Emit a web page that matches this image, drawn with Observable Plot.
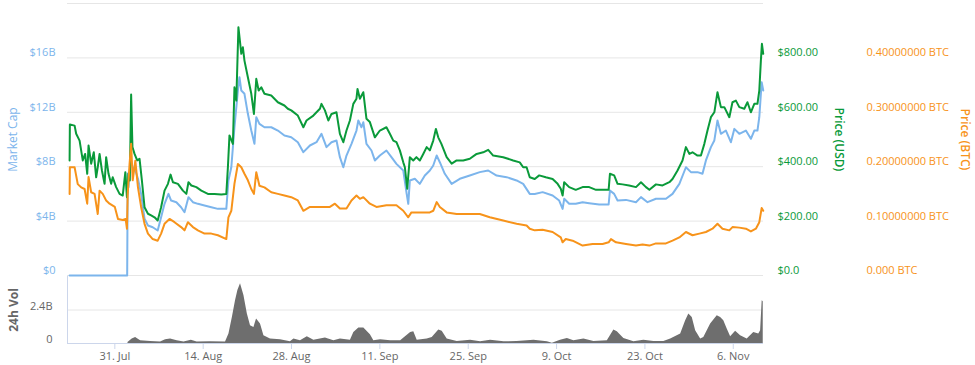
<!DOCTYPE html>
<html><head><meta charset="utf-8">
<script src="https://cdn.jsdelivr.net/npm/d3@7"></script>
<script src="https://cdn.jsdelivr.net/npm/@observablehq/plot@0.6"></script>
<style>
html,body{margin:0;padding:0;background:#fff;overflow:hidden}
#chart{position:relative;width:975px;height:365px}
#chart svg{position:absolute;left:0;top:0}
</style></head><body><div id="chart"></div>
<script>
// ---- data ----
const marketCapB = [["07-23 20",0],["08-01 23",0],["08-02 01",7.5],["08-02 04",6.49],["08-02 12",8.46],["08-02 20",7.96],["08-03 06",7.72],["08-03 16",7.11],["08-04 04",6.0],["08-04 17",4.17],["08-05 06",3.68],["08-06 00",3.55],["08-06 19",3.31],["08-07 08",4.29],["08-07 21",5.27],["08-08 12",6.0],["08-08 22",5.51],["08-09 18",5.39],["08-10 12",5.02],["08-11 01",4.65],["08-11 16",5.76],["08-12 09",5.39],["08-13 04",5.27],["08-14 05",5.15],["08-15 07",5.02],["08-16 08",4.9],["08-17 16",4.9],["08-18 00",6.99],["08-18 11",7.96],["08-18 23",10.9],["08-19 12",13.6],["08-19 18",14.58],["08-20 01",13.6],["08-20 13",13.36],["08-21 02",11.89],["08-21 15",10.66],["08-22 03",9.68],["08-22 10",11.64],["08-22 22",11.15],["08-23 17",10.9],["08-24 19",10.9],["08-25 20",10.66],["08-26 21",10.29],["08-27 23",10.17],["08-29 00",9.8],["08-29 21",9.07],["08-30 22",9.56],["08-31 23",9.8],["09-01 18",10.42],["09-02 13",9.44],["09-03 08",9.8],["09-04 03",9.93],["09-04 16",8.7],["09-05 05",7.96],["09-05 17",8.82],["09-06 12",9.68],["09-07 07",10.66],["09-07 14",11.4],["09-08 02",10.9],["09-08 09",11.27],["09-08 21",9.68],["09-09 16",9.19],["09-10 05",8.46],["09-11 00",8.82],["09-12 01",9.19],["09-12 20",8.7],["09-13 15",8.21],["09-14 17",7.72],["09-15 06",6.0],["09-15 12",5.27],["09-15 18",6.99],["09-16 13",7.11],["09-17 08",6.74],["09-18 03",7.35],["09-18 22",7.72],["09-19 11",8.09],["09-20 00",8.82],["09-20 12",8.33],["09-21 07",7.48],["09-22 09",6.74],["09-23 16",7.11],["09-25 06",7.35],["09-26 20",7.6],["09-28 04",7.72],["09-29 12",7.35],["10-01 02",7.23],["10-02 16",6.99],["10-03 17",6.74],["10-04 18",6.0],["10-05 13",6.0],["10-06 19",6.13],["10-08 09",5.88],["10-09 10",5.51],["10-09 23",4.9],["10-10 05",5.64],["10-11 00",5.27],["10-12 01",5.27],["10-13 03",5.39],["10-14 04",5.32],["10-15 18",5.22],["10-17 06",5.22],["10-17 11",6.25],["10-18 03",6.0],["10-18 16",5.51],["10-20 00",5.56],["10-21 14",5.39],["10-22 09",5.76],["10-23 10",5.39],["10-24 18",5.64],["10-26 08",5.64],["10-27 09",6.0],["10-28 11",6.74],["10-29 12",7.96],["10-30 07",7.6],["10-31 08",7.6],["11-01 03",7.48],["11-01 16",8.46],["11-02 11",9.44],["11-03 00",9.93],["11-03 12",11.4],["11-04 01",10.42],["11-04 20",10.66],["11-05 15",9.8],["11-06 04",10.78],["11-06 23",10.42],["11-08 00",10.66],["11-08 19",10.05],["11-09 08",10.66],["11-09 20",10.66],["11-10 03",11.64],["11-10 12",14.21],["11-10 18",13.6]];

const priceUsd = [["07-23 20",423],["07-23 21",555],["07-24 15",551],["07-24 21",521],["07-25 10",496],["07-25 22",423],["07-26 07",447],["07-26 15",374],["07-26 20",478],["07-27 06",411],["07-27 16",453],["07-28 01",361],["07-28 07",398],["07-28 14",447],["07-28 23",386],["07-29 09",337],["07-29 15",435],["07-30 00",374],["07-30 10",337],["07-30 16",361],["07-31 05",325],["07-31 18",300],["08-01 06",294],["08-01 16",380],["08-01 22",288],["08-02 04",374],["08-02 09",349],["08-02 14",665],["08-02 19",472],["08-03 03",447],["08-03 13",423],["08-03 22",429],["08-04 07",349],["08-04 17",251],["08-05 06",227],["08-05 18",221],["08-06 07",214],["08-06 19",202],["08-07 08",251],["08-07 21",312],["08-08 10",337],["08-08 20",371],["08-09 05",343],["08-10 00",337],["08-10 19",312],["08-11 08",300],["08-11 16",343],["08-12 03",331],["08-12 22",325],["08-13 17",312],["08-14 18",300],["08-15 19",300],["08-16 21",298],["08-17 16",300],["08-17 22",398],["08-18 04",515],["08-18 17",484],["08-18 23",692],["08-19 06",643],["08-19 14",913],["08-20 01",815],["08-20 07",839],["08-20 13",790],["08-21 02",729],["08-21 15",668],["08-22 01",594],["08-22 10",723],["08-22 19",680],["08-23 05",692],["08-23 17",668],["08-24 19",662],["08-25 20",637],["08-26 21",625],["08-27 10",613],["08-27 23",607],["08-29 00",588],["08-29 21",545],["08-30 09",570],["08-31 11",588],["09-01 12",613],["09-01 18",631],["09-02 07",607],["09-02 20",570],["09-03 08",594],["09-04 03",600],["09-04 16",521],["09-05 05",490],["09-05 17",533],["09-06 06",570],["09-06 19",631],["09-07 07",650],["09-07 11",686],["09-07 20",650],["09-08 09",674],["09-08 21",576],["09-09 10",564],["09-10 05",508],["09-11 00",533],["09-12 01",545],["09-12 14",521],["09-13 03",496],["09-13 15",490],["09-14 04",460],["09-14 17",416],["09-14 23",398],["09-15 08",319],["09-15 18",435],["09-16 07",423],["09-16 19",435],["09-17 08",423],["09-17 21",447],["09-18 10",472],["09-18 22",460],["09-19 11",496],["09-19 21",539],["09-20 06",508],["09-20 18",484],["09-21 14",435],["09-22 09",411],["09-23 04",423],["09-24 05",423],["09-25 06",429],["09-26 08",447],["09-27 09",453],["09-28 04",462],["09-28 23",441],["09-30 13",435],["10-02 03",423],["10-03 04",416],["10-03 17",398],["10-04 06",398],["10-04 18",361],["10-05 13",355],["10-06 06",368],["10-07 07",361],["10-08 09",355],["10-09 04",337],["10-09 16",319],["10-09 23",294],["10-10 05",343],["10-11 00",325],["10-12 01",315],["10-13 03",325],["10-14 04",325],["10-15 06",315],["10-16 07",315],["10-17 06",315],["10-17 11",374],["10-18 03",368],["10-18 16",337],["10-19 11",335],["10-20 12",331],["10-21 14",325],["10-22 09",343],["10-23 04",325],["10-23 17",315],["10-24 18",335],["10-25 19",331],["10-26 21",343],["10-27 09",355],["10-28 04",386],["10-28 23",423],["10-29 12",472],["10-30 01",447],["10-30 13",453],["10-31 08",441],["10-31 21",441],["11-01 10",484],["11-01 22",533],["11-02 11",582],["11-03 00",600],["11-03 12",674],["11-04 01",619],["11-04 14",619],["11-05 09",582],["11-05 21",637],["11-06 10",643],["11-06 23",619],["11-07 18",613],["11-08 06",637],["11-08 19",600],["11-09 08",631],["11-09 20",631],["11-10 03",680],["11-10 09",790],["11-10 13",852],["11-10 18",815]];

const priceBtc = [["07-23 20",0.150],["07-23 21",0.199],["07-24 15",0.199],["07-25 03",0.168],["07-25 16",0.162],["07-26 05",0.159],["07-26 15",0.132],["07-26 20",0.181],["07-27 06",0.153],["07-27 19",0.150],["07-28 07",0.113],["07-28 14",0.156],["07-29 02",0.150],["07-29 15",0.138],["07-30 04",0.132],["07-31 00",0.126],["07-31 12",0.104],["08-01 06",0.102],["08-01 17",0.104],["08-01 22",0.086],["08-02 01",0.150],["08-02 08",0.205],["08-02 14",0.242],["08-02 20",0.175],["08-03 06",0.211],["08-03 16",0.162],["08-04 04",0.126],["08-04 17",0.095],["08-05 06",0.077],["08-06 00",0.067],["08-06 19",0.064],["08-07 08",0.077],["08-07 21",0.095],["08-08 16",0.104],["08-09 11",0.098],["08-10 12",0.089],["08-11 01",0.083],["08-11 14",0.098],["08-12 09",0.089],["08-13 04",0.083],["08-14 05",0.077],["08-15 07",0.077],["08-16 08",0.074],["08-17 16",0.067],["08-18 00",0.107],["08-18 11",0.119],["08-18 23",0.169],["08-19 12",0.205],["08-20 01",0.199],["08-20 13",0.187],["08-21 02",0.175],["08-21 15",0.159],["08-22 01",0.150],["08-22 10",0.190],["08-22 22",0.165],["08-23 17",0.162],["08-24 19",0.153],["08-25 20",0.150],["08-26 21",0.147],["08-27 23",0.144],["08-29 00",0.138],["08-29 21",0.119],["08-30 22",0.126],["09-01 12",0.126],["09-03 02",0.126],["09-03 21",0.132],["09-04 16",0.123],["09-05 17",0.123],["09-06 12",0.138],["09-07 07",0.147],["09-07 20",0.141],["09-08 09",0.144],["09-09 10",0.132],["09-10 11",0.126],["09-12 01",0.129],["09-13 15",0.129],["09-14 17",0.119],["09-15 12",0.107],["09-16 00",0.116],["09-17 08",0.116],["09-18 22",0.116],["09-19 11",0.119],["09-20 00",0.135],["09-20 12",0.126],["09-21 14",0.116],["09-23 04",0.113],["09-25 06",0.113],["09-26 20",0.113],["09-28 10",0.107],["09-30 13",0.101],["10-02 16",0.095],["10-04 06",0.092],["10-04 18",0.086],["10-05 13",0.083],["10-06 19",0.084],["10-08 09",0.080],["10-09 16",0.070],["10-09 23",0.061],["10-10 11",0.067],["10-11 13",0.064],["10-13 03",0.055],["10-14 17",0.058],["10-16 07",0.058],["10-17 06",0.061],["10-17 15",0.067],["10-18 10",0.061],["10-20 00",0.058],["10-21 14",0.055],["10-22 15",0.057],["10-23 17",0.055],["10-24 18",0.059],["10-26 08",0.059],["10-27 09",0.064],["10-28 11",0.070],["10-29 12",0.080],["10-30 13",0.074],["10-31 15",0.077],["11-01 16",0.080],["11-02 17",0.086],["11-03 12",0.095],["11-04 07",0.086],["11-05 09",0.083],["11-05 21",0.089],["11-06 23",0.088],["11-08 00",0.086],["11-08 19",0.081],["11-09 14",0.086],["11-10 03",0.098],["11-10 12",0.124],["11-10 18",0.119]];

const volumeB = [["08-02 02",0.08],["08-02 18",0.32],["08-03 07",0.43],["08-04 02",0.19],["08-05 16",0.14],["08-07 06",0.10],["08-08 01",0.27],["08-08 20",0.32],["08-09 21",0.19],["08-10 23",0.10],["08-12 03",0.24],["08-13 01",0.10],["08-15 04",0.12],["08-17 13",0.10],["08-18 02",0.68],["08-18 15",1.87],["08-19 03",3.07],["08-19 12",3.79],["08-19 22",4.28],["08-20 11",3.43],["08-21 00",2.12],["08-21 12",1.27],["08-22 01",1.15],["08-22 11",1.76],["08-23 02",1.40],["08-23 15",0.55],["08-24 16",0.32],["08-26 06",0.27],["08-27 20",0.12],["08-28 09",0.32],["08-29 10",0.19],["08-30 12",0.48],["08-31 13",0.24],["09-02 09",0.39],["09-03 17",0.19],["09-04 18",0.32],["09-06 08",0.24],["09-06 21",0.79],["09-07 16",1.11],["09-08 11",1.11],["09-09 12",0.62],["09-10 01",0.19],["09-11 03",0.27],["09-12 17",0.19],["09-14 07",0.19],["09-15 21",0.79],["09-16 09",0.84],["09-16 22",0.24],["09-18 12",0.32],["09-19 07",0.43],["09-20 08",0.96],["09-20 21",0.87],["09-21 16",0.32],["09-23 06",0.14],["09-25 09",0.24],["09-26 23",0.12],["09-28 13",0.24],["09-30 16",0.12],["10-02 18",0.14],["10-05 10",0.24],["10-07 13",0.12],["10-08 08",0.02],["10-09 15",0.24],["10-10 17",0.36],["10-11 18",0.19],["10-13 08",0.32],["10-14 22",0.14],["10-17 01",0.19],["10-18 02",0.96],["10-18 15",0.84],["10-19 16",0.36],["10-21 06",0.12],["10-22 20",0.24],["10-24 10",0.14],["10-26 00",0.14],["10-27 02",0.32],["10-28 16",0.68],["10-29 11",1.63],["10-29 23",2.12],["10-30 12",1.87],["10-31 01",0.91],["10-31 20",0.32],["11-01 08",0.43],["11-02 10",1.40],["11-03 11",1.99],["11-04 00",1.87],["11-04 12",1.63],["11-05 01",1.04],["11-05 14",0.48],["11-06 09",0.87],["11-07 04",0.55],["11-08 05",0.32],["11-09 06",0.79],["11-10 01",0.68],["11-10 08",0.91],["11-10 14",3.07],["11-10 18",3.00]];

const xTickDates = ["2017-07-31","2017-08-14","2017-08-28","2017-09-11","2017-09-25","2017-10-09","2017-10-23","2017-11-06"];
const capTicks = [0, 4, 8, 12, 16];
const capGrid = [0, 4, 8, 12, 16, 20];
const usdTicks = [0, 200, 400, 600, 800];
const btcTicks = [0, 0.1, 0.2, 0.3, 0.4];
const volTicks = [0, 2.4];
const xDomainText = ["2017-07-23T12:00Z", "2017-11-10T19:00Z"];

// ---- build ----
const parseT = d3.utcParse("%Y-%m-%d %H");
const rows = arr => arr.map(([t, v]) => ({date: parseT("2017-" + t), value: v}));
const xDomain = xDomainText.map(s => new Date(s));
const xTicks = xTickDates.map(s => new Date(s + "T00:00Z"));

const BLUE = "#7cb5ec", GREEN = "#0a9a3a", ORANGE = "#f7931a", GREY = "#666666";
const FONT = "'Open Sans', sans-serif";
const common = {
  width: 975, height: 365, marginLeft: 67, marginRight: 212,
  style: {background: "transparent", fontFamily: FONT, fontSize: "11px", overflow: "visible"},
  x: {type: "utc", domain: xDomain, axis: null}
};
const main = {...common, marginTop: 3, marginBottom: 90};

const capPlot = Plot.plot({
  ...main,
  y: {domain: [0, 20], axis: null},
  marks: [
    Plot.gridY(capGrid, {stroke: "#e6e6e6", strokeOpacity: 1}),
    Plot.axisY(capTicks, {anchor: "left", tickSize: 0, tickPadding: 12, dy: -5, color: BLUE, fill: BLUE, tickFormat: d => d === 0 ? "$0" : `$${d}B`, label: null}),
    Plot.text(["Market Cap"], {frameAnchor: "left", textAnchor: "middle", dx: -54, rotate: -90, fill: BLUE, fontSize: 12}),
    Plot.lineY(rows(marketCapB), {x: "date", y: "value", stroke: BLUE, strokeWidth: 2})
  ]
});

const usdPlot = Plot.plot({
  ...main,
  y: {domain: [0, 1000], axis: null},
  marks: [
    Plot.axisY(usdTicks, {anchor: "right", tickSize: 0, tickPadding: 14, dy: -5, color: GREEN, fill: GREEN, textAnchor: "start", tickFormat: d => d === 0 ? "$0.0" : `$${d.toFixed(2)}`, label: null}),
    Plot.text(["Price (USD)"], {frameAnchor: "right", textAnchor: "middle", dx: 75, rotate: 90, fill: GREEN, fontSize: 12, fontWeight: 600}),
    Plot.lineY(rows(priceUsd), {x: "date", y: "value", stroke: GREEN, strokeWidth: 2})
  ]
});

const btcPlot = Plot.plot({
  ...main,
  y: {domain: [0, 0.5], axis: null},
  marks: [
    Plot.axisY(btcTicks, {anchor: "right", tickSize: 0, tickPadding: 103, dy: -5, color: ORANGE, fill: ORANGE, textAnchor: "start", tickFormat: d => d === 0 ? "0.000 BTC" : `${d.toFixed(8)} BTC`, label: null}),
    Plot.text(["Price (BTC)"], {frameAnchor: "right", textAnchor: "middle", dx: 201, rotate: 90, fill: ORANGE, fontSize: 12, fontWeight: 600}),
    Plot.lineY(rows(priceBtc), {x: "date", y: "value", stroke: ORANGE, strokeWidth: 2})
  ]
});

const volPlot = Plot.plot({
  ...common, marginTop: 276, marginBottom: 22,
  y: {domain: [0, 4.8], axis: null},
  marks: [
    Plot.gridY([2.4], {stroke: "#e6e6e6", strokeOpacity: 1}),
    Plot.areaY(rows(volumeB), {x: "date", y: "value", fill: "#6e6e6e"}),
    Plot.ruleY([0], {stroke: "#ccd6eb"}),
    Plot.ruleX([xDomain[0]], {stroke: "#ccd6eb"}),
    Plot.axisY(volTicks, {anchor: "left", tickSize: 0, tickPadding: 15, dy: -4, color: GREY, fill: GREY, tickFormat: d => d === 0 ? "0" : `${d}B`, label: null}),
    Plot.axisX(xTicks, {anchor: "bottom", tickSize: 6, tickPadding: 3, stroke: "#ccd6eb", fill: GREY, tickFormat: d3.utcFormat("%-d. %b"), label: null}),
    Plot.text(["24h Vol"], {frameAnchor: "left", textAnchor: "middle", dx: -53, rotate: -90, fill: GREY, fontSize: 12, fontWeight: "bold"})
  ]
});

const chart = document.getElementById("chart");
for (const p of [capPlot, usdPlot, btcPlot, volPlot]) chart.appendChild(p);
</script></body></html>
